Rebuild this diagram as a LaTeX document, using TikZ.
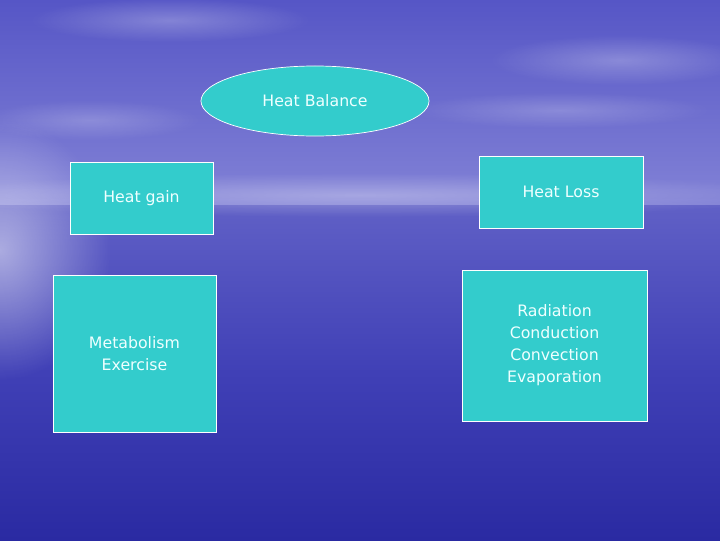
\documentclass[tikz,border=0pt]{standalone}
\usepackage{fontspec}
\setmainfont{DejaVu Sans}
\usepackage{tikz}
\usetikzlibrary{shapes, fadings}
\definecolor{panelfill}{HTML}{33CCCC}
\definecolor{labeltext}{HTML}{EEFFFF}
\definecolor{skytop}{HTML}{5656C6}
\definecolor{skylow}{HTML}{8282D6}
\definecolor{seatop}{HTML}{6060C6}
\definecolor{seamid}{HTML}{4040B6}
\definecolor{seabottom}{HTML}{2A2AA2}
\tikzfading[name=soft, inner color=transparent!0, outer color=transparent!100]
\tikzstyle{words} = [font=\fontsize{11.2}{15.6}\selectfont, text=labeltext, align=center]
\tikzstyle{topic} = [ellipse, draw=white, line width=0.5pt, fill=panelfill, minimum width=5.7cm, minimum height=1.75cm, inner sep=0]
\tikzstyle{panel} = [rectangle, draw=white, line width=0.5pt, fill=panelfill, inner sep=0]

\begin{document}
\begin{tikzpicture}[x=0.025cm, y=-0.025cm]
	\useasboundingbox (0, 0) rectangle (720, 540);
	% backdrop: sky and sea
	\begin{scope}
		\clip (0, 0) rectangle (720, 540);
		\shade[top color=skytop, bottom color=skylow] (0, 0) rectangle (720, 205);
		\shade[top color=seatop, bottom color=seabottom, middle color=seamid] (0, 205) rectangle (720, 540);
		\fill[white, opacity=0.5, path fading=soft] (0, 250) ellipse (110 and 130);
		\fill[white, opacity=0.3, path fading=soft] (360, 195) ellipse (450 and 22);
		\fill[white, opacity=0.25, path fading=soft] (170, 20) ellipse (140 and 22);
		\fill[white, opacity=0.25, path fading=soft] (620, 60) ellipse (130 and 25);
		\fill[white, opacity=0.2, path fading=soft] (90, 120) ellipse (110 and 20);
		\fill[white, opacity=0.2, path fading=soft] (560, 110) ellipse (150 and 18);
	\end{scope}

	\node (Balance) [topic, words] at (315, 101) {Heat Balance};

	\node (Gain) [panel, words, minimum width=3.575cm, minimum height=1.8cm] at (141.5, 198) {Heat gain};
	\node (Loss) [panel, words, minimum width=4.1cm, minimum height=1.8cm] at (561, 192) {Heat Loss};

	\node (GainList) [panel, words, minimum width=4.075cm, minimum height=3.925cm] at (134.5, 353.5) {Metabolism\\Exercise};
	\node (LossList) [panel, words, minimum width=4.625cm, minimum height=3.775cm] at (554.5, 345.5) {Radiation\\Conduction\\Convection\\Evaporation};
\end{tikzpicture}
\end{document}
